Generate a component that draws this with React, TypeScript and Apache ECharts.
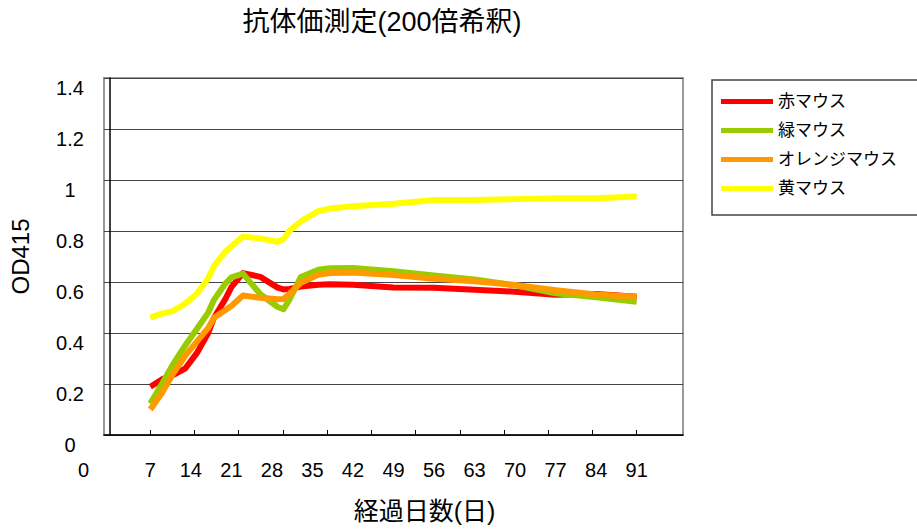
import React, { useEffect, useRef } from "react";
import * as echarts from "echarts";

// Antibody titre (OD415, 200x dilution) per mouse over elapsed days
const days = [7, 9, 11, 13, 15, 17, 18, 20, 21, 23, 26, 29, 30, 31, 33, 36, 38, 42, 49, 56, 63, 70, 77, 84, 91];

const seriesNames = ["赤マウス", "緑マウス", "オレンジマウス", "黄マウス"];
const seriesColors = ["#FF0000", "#99CC00", "#FF9900", "#FFFF00"];

const redMouse = [0.189, 0.218, 0.236, 0.26, 0.32, 0.4, 0.46, 0.535, 0.58, 0.635, 0.62, 0.578, 0.571, 0.573, 0.582, 0.589, 0.591, 0.589, 0.578, 0.577, 0.57, 0.562, 0.55, 0.553, 0.542];
const greenMouse = [0.123, 0.2, 0.28, 0.35, 0.415, 0.48, 0.53, 0.595, 0.618, 0.633, 0.552, 0.502, 0.493, 0.53, 0.62, 0.648, 0.654, 0.655, 0.642, 0.626, 0.61, 0.587, 0.556, 0.54, 0.522];
const orangeMouse = [0.1, 0.165, 0.243, 0.31, 0.365, 0.42, 0.46, 0.49, 0.506, 0.547, 0.538, 0.532, 0.533, 0.553, 0.597, 0.628, 0.635, 0.637, 0.627, 0.613, 0.603, 0.588, 0.568, 0.551, 0.542];
const yellowMouse = [0.46, 0.476, 0.487, 0.515, 0.553, 0.615, 0.663, 0.72, 0.74, 0.778, 0.771, 0.758, 0.768, 0.8, 0.838, 0.878, 0.888, 0.897, 0.907, 0.922, 0.922, 0.925, 0.928, 0.928, 0.935];

const seriesValues = [redMouse, greenMouse, orangeMouse, yellowMouse];

// Day labels under the axis (0 sits outside the plotted range)
const dayLabels = [0, 7, 14, 21, 28, 35, 42, 49, 56, 63, 70, 77, 84, 91];

const titleText = "抗体価測定(200倍希釈)";
const xAxisName = "経過日数(日)";
const yAxisName = "OD415";

const FONT = "'Liberation Sans', 'Noto Sans CJK JP', sans-serif";

const X_MIN = -1;
const X_MAX = 99;
const firstDay = days[0];
const lastDay = days[days.length - 1];
// 12 evenly spaced tick marks from the first to the last sampling day
const tickDays = Array.from({ length: 12 }, (_, i) => firstDay + ((lastDay - firstDay) * i) / 11);

const GRID = { left: 104, top: 78, right: 234, bottom: 94 };

export default function App() {
  const ref = useRef<HTMLDivElement>(null);

  useEffect(() => {
    if (!ref.current) return;
    const chart = echarts.init(ref.current, undefined, { renderer: "svg" });

    const inRange = dayLabels.filter((d) => d >= X_MIN && d <= X_MAX && d >= firstDay);
    const outOfRange = dayLabels.filter((d) => d < firstDay);

    chart.setOption({
      animation: false,
      backgroundColor: "#ffffff",
      color: seriesColors,
      textStyle: { fontFamily: FONT },
      title: {
        text: titleText,
        left: 382,
        top: 7,
        padding: 0,
        textAlign: "center",
        textStyle: { fontFamily: FONT, fontSize: 27, fontWeight: "normal", color: "#000", lineHeight: 30 },
      },
      legend: {
        orient: "vertical",
        left: 712,
        top: 80,
        padding: [13, 40, 18, 9],
        itemGap: 12,
        itemWidth: 52,
        itemHeight: 5,
        icon: "rect",
        borderColor: "#444",
        borderWidth: 1.5,
        textStyle: { fontFamily: FONT, fontSize: 17, color: "#000" },
        data: seriesNames,
      },
      grid: {
        left: GRID.left,
        top: GRID.top,
        right: GRID.right,
        bottom: GRID.bottom,
        show: true,
        borderColor: "#999",
        borderWidth: 2,
        backgroundColor: "transparent",
      },
      xAxis: {
        type: "value",
        min: X_MIN,
        max: X_MAX,
        name: xAxisName,
        nameLocation: "middle",
        nameGap: 63,
        nameTextStyle: { fontFamily: FONT, fontSize: 25, color: "#000", padding: [0, 0, 0, 62] },
        axisLine: { show: true, onZero: false, lineStyle: { color: "#000", width: 1.5 } },
        axisTick: { show: true, inside: true, length: 5, customValues: tickDays, lineStyle: { color: "#000", width: 1 } },
        axisLabel: {
          customValues: inRange,
          margin: 25,
          fontFamily: FONT,
          fontSize: 20,
          color: "#000",
          lineHeight: 19,
        },
        splitLine: { show: false },
      },
      yAxis: {
        type: "value",
        min: 0,
        max: 1.4,
        interval: 0.2,
        name: yAxisName,
        nameLocation: "middle",
        nameGap: 72,
        nameTextStyle: { fontFamily: FONT, fontSize: 24, color: "#000" },
        axisLine: { show: true, lineStyle: { color: "#000", width: 1.5 } },
        axisTick: { show: false },
        axisLabel: {
          margin: 34,
          align: "center",
          verticalAlign: "top",
          lineHeight: 19,
          fontFamily: FONT,
          fontSize: 20,
          color: "#000",
        },
        splitLine: { show: true, lineStyle: { color: "#444", width: 1 } },
      },
      graphic: outOfRange.map((d) => ({
        type: "text",
        left: GRID.left - 26,
        top: 529 - GRID.bottom + 25,
        style: { text: String(d), font: `20px ${FONT}`, fill: "#000" },
      })),
      series: seriesNames.map((name, k) => ({
        name,
        type: "line",
        data: days.map((d, i) => [d, seriesValues[k][i]]),
        showSymbol: false,
        symbol: "none",
        smooth: false,
        itemStyle: { color: seriesColors[k] },
        lineStyle: { color: seriesColors[k], width: 6, cap: "butt", join: "round" },
      })),
    });

    return () => chart.dispose();
  }, []);

  return (
    <div
      ref={ref}
      style={{ position: "absolute", left: 0, top: 0, width: 917, height: 529 }}
    />
  );
}
